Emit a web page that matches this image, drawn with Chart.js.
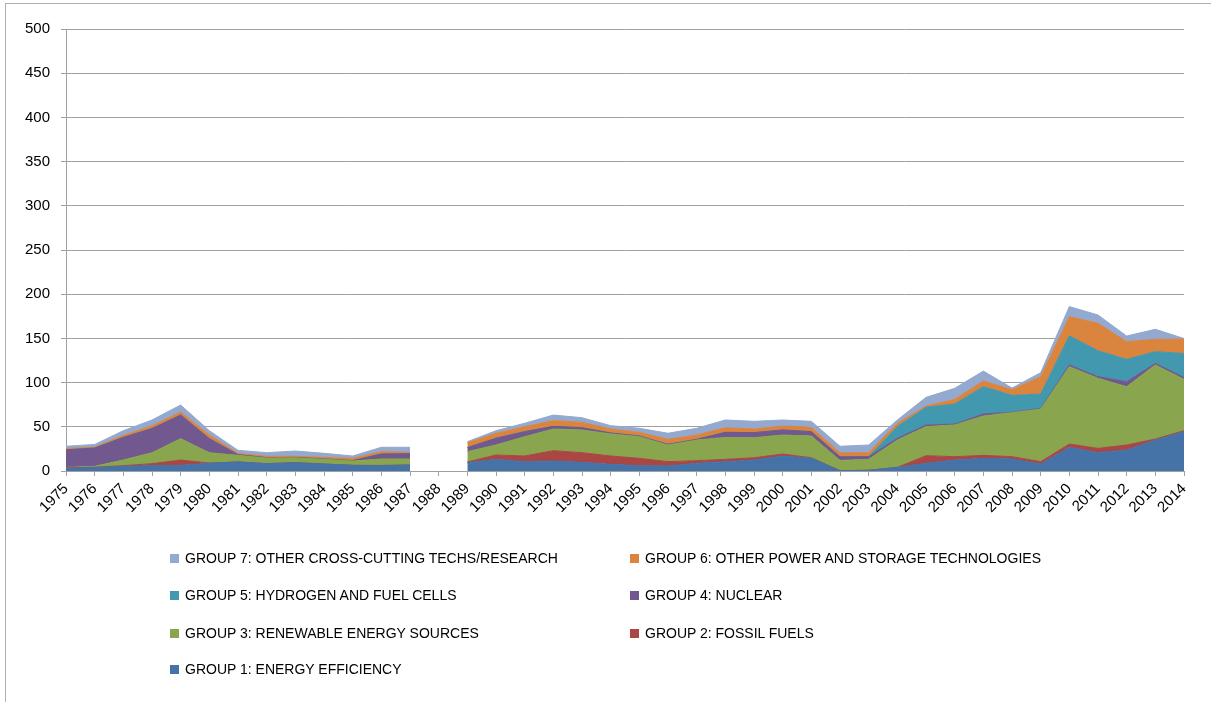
<!DOCTYPE html>
<html>
<head>
<meta charset="utf-8">
<script src="https://cdn.jsdelivr.net/npm/chart.js@4"></script>
<style>
  html, body { margin: 0; padding: 0; background: #fff; overflow: hidden; }
  #wrap { position: relative; width: 1211px; height: 702px; }
  #frame { position: absolute; left: 5px; top: 3px; width: 1210px; height: 702px; border: 1px solid #b0b0b0; box-sizing: border-box; }
  canvas { position: absolute; left: 0; top: 0; }
  .item { position: absolute; font: 14px "Liberation Sans", Arial, sans-serif; color: #000; white-space: nowrap; }
  .item span { display: inline-block; width: 9px; height: 9px; margin-right: 6px; }
</style>
</head>
<body>
<div id="wrap">
  <div id="frame"></div>
  <canvas id="chart" width="1211" height="702"></canvas>
  <div id="legend"></div>
</div>
<script>
const years = ['1975','1976','1977','1978','1979','1980','1981','1982','1983','1984',
  '1985','1986','1987','1988','1989','1990','1991','1992','1993','1994',
  '1995','1996','1997','1998','1999','2000','2001','2002','2003','2004',
  '2005','2006','2007','2008','2009','2010','2011','2012','2013','2014'];

const g1 = [3, 4, 5.3, 6, 6.4, 8.7, 10.2, 8.3, 9.4, 7.9, 6.4, 6, 6.8, null, 9.4, 13.2, 10.6, 11.3, 9.8, 7.5,
  6, 5.7, 8.7, 10.6, 12.4, 17, 14.3, 0.4, 0.8, 4.1, 8.7, 12.4, 14.3, 13.6, 7.9, 26.8, 20.7, 23.8, 35, 44.5];
const g2 = [0.5, 0.3, 0.7, 2.3, 6, 0.3, 0, 0, 0, 0, 0, 0.3, 0, null, 0.8, 4.9, 6.4, 11.7, 10.9, 9.5,
  8.3, 4.9, 3, 2.6, 2.6, 2.2, 0.7, 0, 0, 0, 8.6, 3.8, 3.4, 2.6, 2.7, 3.7, 4.9, 5.6, 1.2, 1.1];
const g3 = [0.5, 1, 6.4, 12.4, 24.2, 11.7, 7.5, 6.4, 5.6, 5.3, 4.9, 7.3, 6.8, null, 11.7, 11.3, 21.8, 24.5, 25.7, 24.9,
  24.5, 18.8, 23.3, 24.8, 22.7, 21.5, 24.6, 11.6, 12.4, 30.9, 32.9, 35.8, 44.5, 49.8, 59.4, 87.5, 79.2, 66, 83.8, 58];
const g4 = [20, 20.7, 25.6, 27.3, 26.7, 15.9, 0.8, 0.4, 0.4, 0.4, 0.5, 5.6, 6, null, 4.5, 7.6, 5.7, 3, 2.6, 1.1,
  0.8, 0.8, 0.8, 5.7, 5.7, 5.7, 4.9, 4, 3, 2, 1.8, 1, 2.3, 0.4, 0.8, 2, 1.9, 5.6, 1.8, 2.3];
const g5 = [0, 0, 0, 0, 0, 0, 0, 0, 0, 0, 0, 0, 0, null, 0, 0, 0, 0, 0, 0,
  0, 0, 0, 0, 0, 0, 0, 0, 0, 13.2, 20, 22.8, 30.9, 19.2, 16.2, 33, 29.3, 25.3, 13.2, 27];
const g6 = [1.5, 1, 2.3, 3, 3.4, 4.1, 1.5, 1.5, 1.2, 1.9, 2.5, 2.7, 1.5, null, 5.6, 5.6, 5.5, 6.5, 6, 4.5,
  4.1, 5.6, 4.9, 5.3, 4.1, 4.5, 4.9, 4.5, 4.5, 3.7, 1.5, 5.2, 6.4, 6.4, 19.7, 21.6, 31, 20, 14, 16.3];
const g7 = [2.5, 3, 5.3, 6.7, 8, 4.9, 3.4, 4.1, 6, 4.5, 2.7, 4.9, 5.7, null, 1.2, 3, 4, 6.3, 5.3, 3.8,
  4.6, 6.9, 7.6, 8.7, 8.7, 6.8, 6.8, 7.5, 8.7, 3.8, 9.8, 12.5, 11.2, 1.9, 4.5, 11.4, 9.5, 6.4, 11.3, 0.7];

const yTicks = [0, 50, 100, 150, 200, 250, 300, 350, 400, 450, 500];

const series = [
  { label: 'GROUP 1: ENERGY EFFICIENCY', data: g1, color: '#4572A7' },
  { label: 'GROUP 2: FOSSIL FUELS', data: g2, color: '#AA4643' },
  { label: 'GROUP 3: RENEWABLE ENERGY SOURCES', data: g3, color: '#89A54E' },
  { label: 'GROUP 4: NUCLEAR', data: g4, color: '#71588F' },
  { label: 'GROUP 5: HYDROGEN AND FUEL CELLS', data: g5, color: '#4198AF' },
  { label: 'GROUP 6: OTHER POWER AND STORAGE TECHNOLOGIES', data: g6, color: '#DB843D' },
  { label: 'GROUP 7: OTHER CROSS-CUTTING TECHS/RESEARCH', data: g7, color: '#93A9CF' }
];

const gridColor = '#a0a0a0';
const font = { family: '"Liberation Sans", Arial, sans-serif', size: 15 };

const chart = new Chart(document.getElementById('chart'), {
  type: 'line',
  data: {
    labels: years,
    datasets: series.map((s, i) => ({
      label: s.label,
      data: s.data,
      backgroundColor: s.color,
      borderColor: s.color,
      borderWidth: 1,
      pointRadius: 0,
      tension: 0,
      fill: i === 0 ? 'origin' : '-1'
    }))
  },
  options: {
    responsive: false,
    animation: false,
    layout: { padding: { left: 6, top: 29, right: 27, bottom: 171 } },
    plugins: { legend: { display: false }, tooltip: { enabled: false } },
    scales: {
      x: {
        offset: false,
        afterFit: (scale) => { scale.height = 60; },
        grid: { drawOnChartArea: false, drawTicks: true, tickLength: 5, color: gridColor },
        border: { color: gridColor },
        ticks: { autoSkip: false, maxRotation: 45, minRotation: 45, color: '#000', font: font, padding: 4 }
      },
      y: {
        stacked: true,
        min: 0,
        max: 500,
        afterFit: (scale) => { scale.width = 60; },
        afterBuildTicks: (scale) => { scale.ticks = yTicks.map(v => ({ value: v })); },
        grid: { color: gridColor, lineWidth: 1, tickLength: 5 },
        border: { color: gridColor },
        ticks: { color: '#000', font: font, padding: 11 }
      }
    }
  }
});

// legend in two columns, highest group first
const legend = document.getElementById('legend');
const colX = [170, 630];
const rowY = [550, 587, 625, 661];
const order = [6, 5, 4, 3, 2, 1, 0];
order.forEach((idx, k) => {
  const ds = chart.data.datasets[idx];
  const div = document.createElement('div');
  div.className = 'item';
  div.style.left = colX[k % 2] + 'px';
  div.style.top = rowY[Math.floor(k / 2)] + 'px';
  const sw = document.createElement('span');
  sw.style.background = ds.backgroundColor;
  div.appendChild(sw);
  div.appendChild(document.createTextNode(ds.label));
  legend.appendChild(div);
});
</script>
</body>
</html>
